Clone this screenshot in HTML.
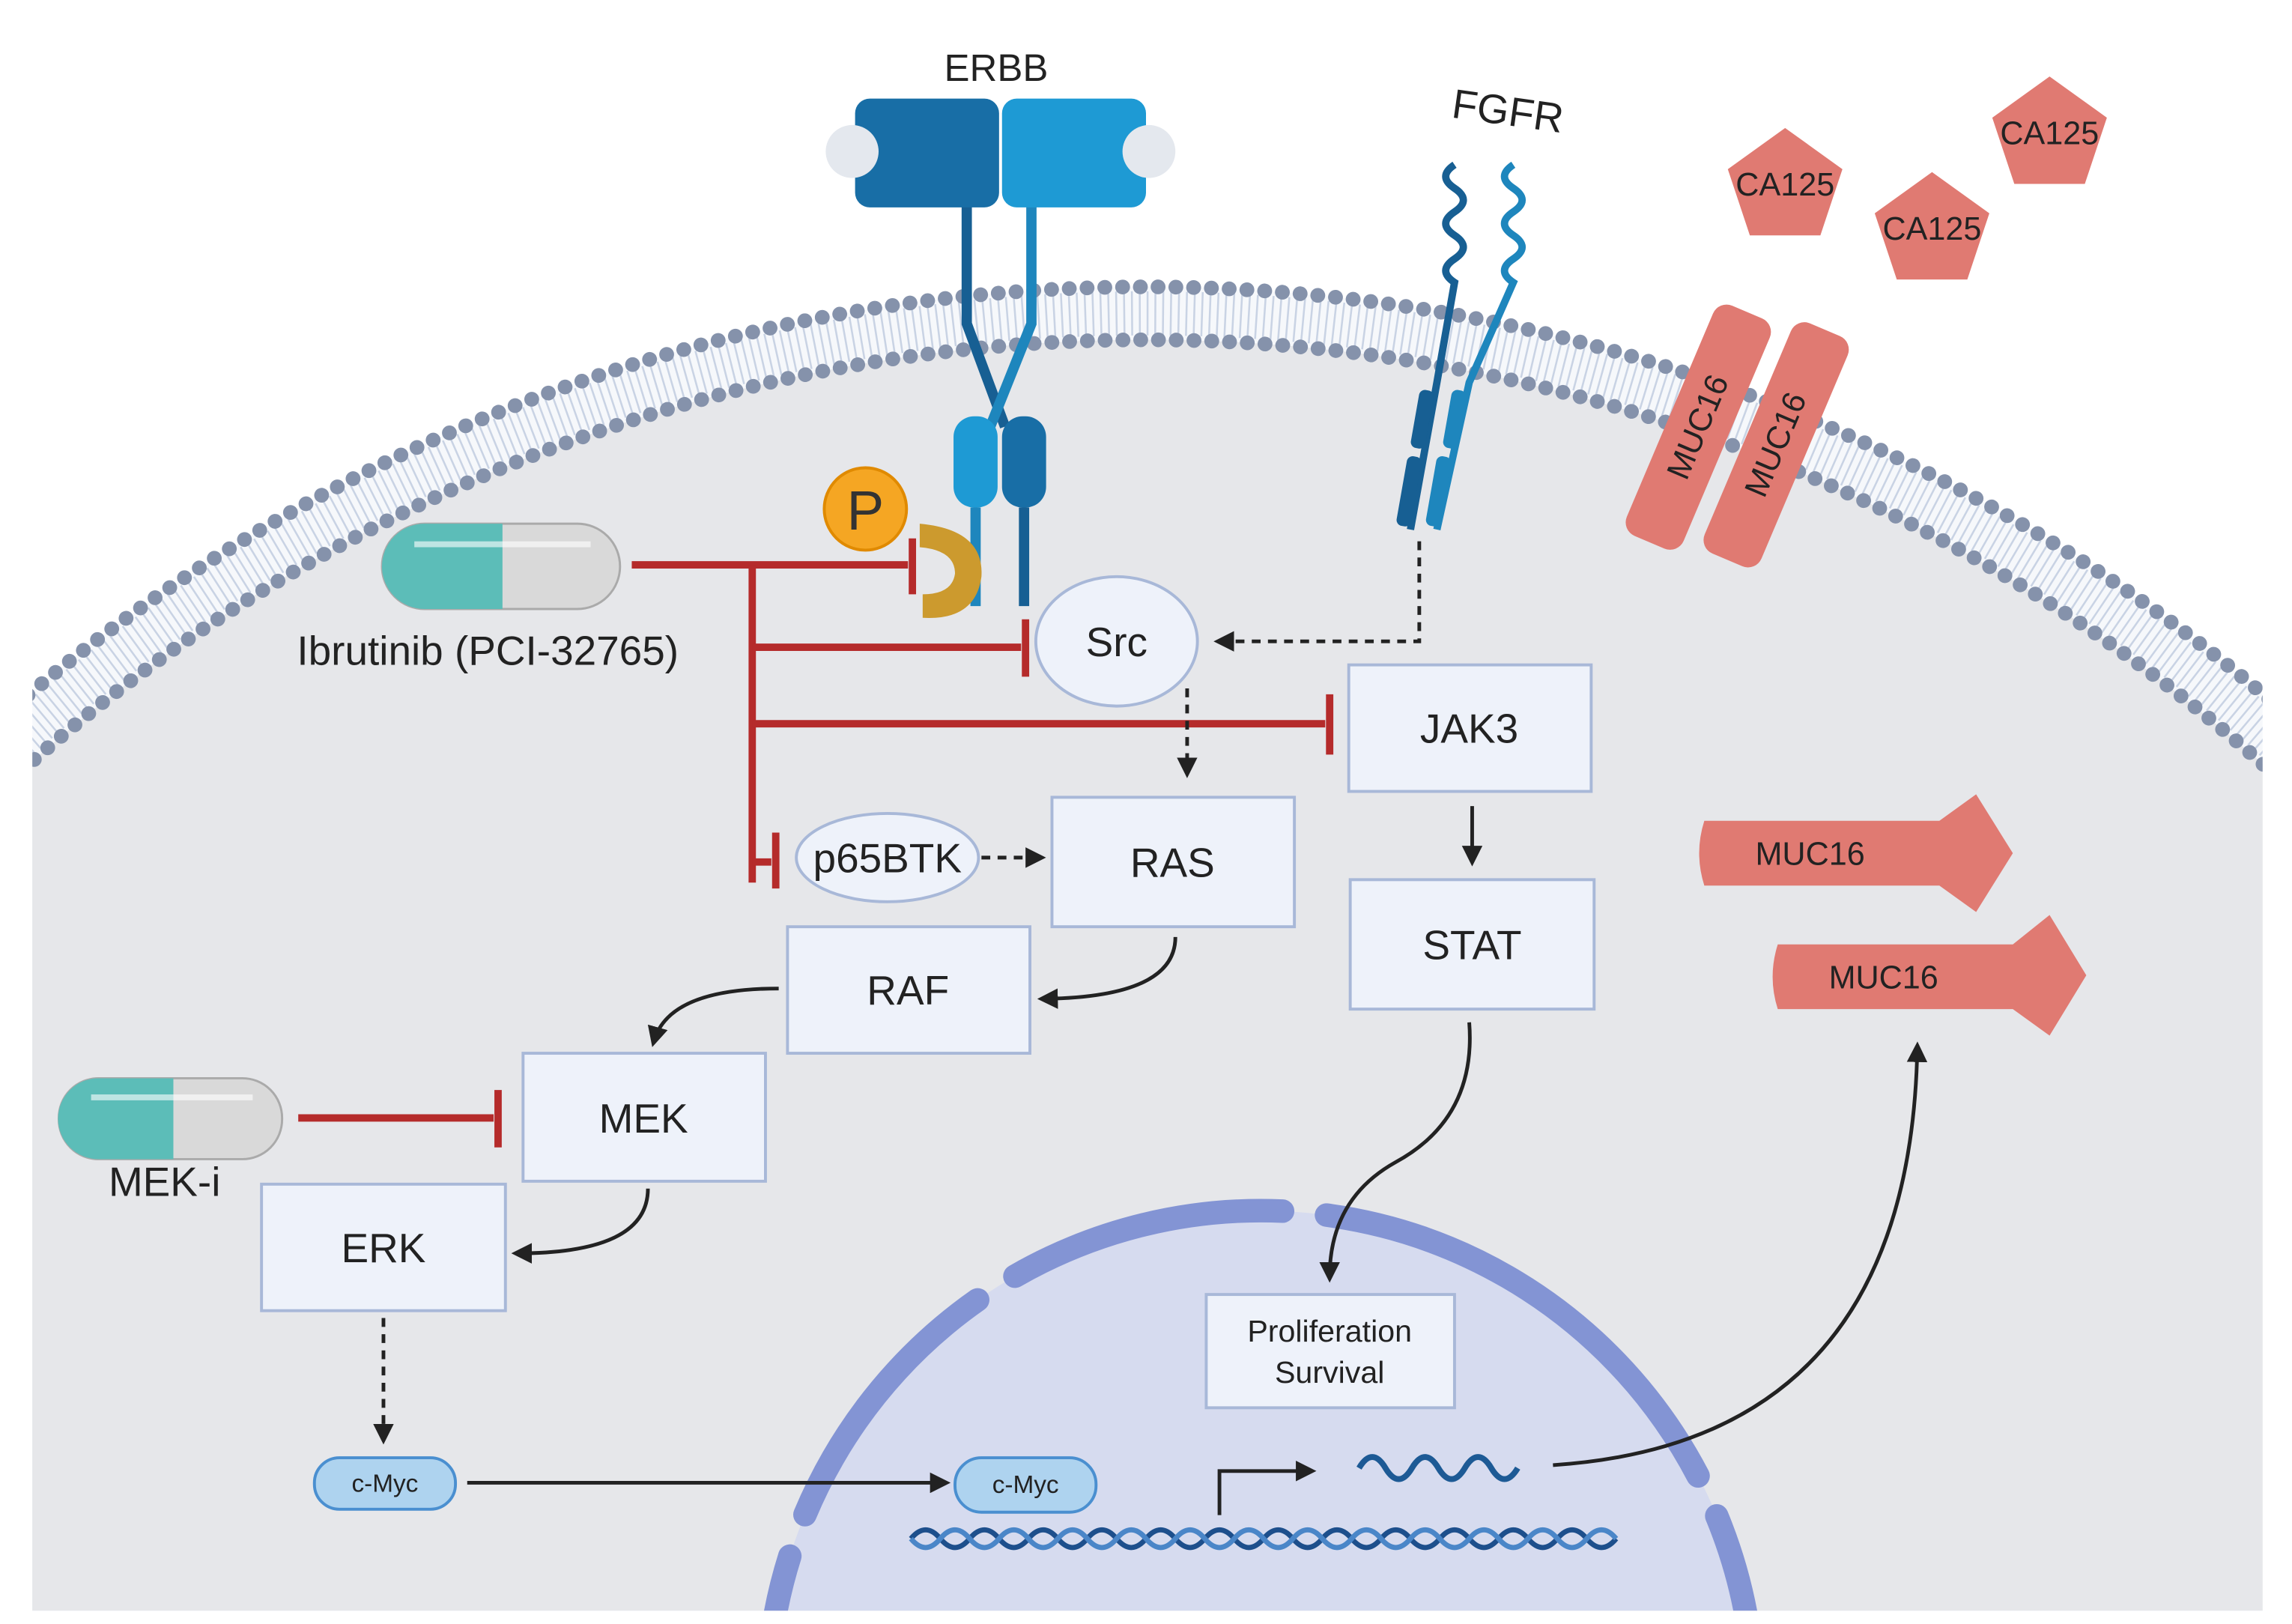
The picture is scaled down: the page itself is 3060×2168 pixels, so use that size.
<!DOCTYPE html>
<html><head><meta charset="utf-8"><style>
html,body{margin:0;padding:0;background:#fff;width:3060px;height:2168px;overflow:hidden;}
svg{display:block;position:absolute;left:0;top:0;}
text{font-family:"Liberation Sans",sans-serif;}
</style></head><body>
<svg width="3060" height="2168" viewBox="0 0 1560 1104" preserveAspectRatio="none" xmlns="http://www.w3.org/2000/svg">
<defs>
<clipPath id="cell"><rect x="22" y="0" width="1518" height="1095"/></clipPath>
<marker id="ah2" markerWidth="14" markerHeight="14" refX="10" refY="7" orient="auto" markerUnits="userSpaceOnUse"><path d="M0,0 L14,7 L0,14 Z" fill="#222"/></marker>
</defs>
<rect width="1560" height="1104" fill="#fff"/>
<g clip-path="url(#cell)">
  <circle cx="780" cy="1377" r="1182" fill="#f6f8fb"/>
  <circle cx="780" cy="1377" r="1164" fill="none" stroke="#c9d3e4" stroke-width="30" stroke-dasharray="1.3 4"/>
  <circle cx="780" cy="1377" r="1146" fill="#e6e7ea"/>
  <circle cx="780" cy="1377" r="1182" fill="none" stroke="#8592ab" stroke-width="10" stroke-dasharray="0.1 12" stroke-linecap="round"/>
  <circle cx="780" cy="1377" r="1146" fill="none" stroke="#8592ab" stroke-width="10" stroke-dasharray="0.1 12" stroke-linecap="round"/>
  <!-- nucleus -->
  <circle cx="858" cy="1159" r="336" fill="#d6dbef"/>
  <circle cx="858" cy="1159" r="336" fill="none" stroke="#8394d4" stroke-width="16" stroke-dasharray="190 30" stroke-linecap="round" transform="rotate(-60 858 1159)"/>
</g>
<rect x="0" y="1095" width="1560" height="9" fill="#fff"/>

<!-- CA125 -->
<g fill="#e07a72">
<polygon points="1215,87 1254,115 1239,160 1191,160 1176,115"/>
<polygon points="1315,117 1354,145 1339,190 1291,190 1276,145"/>
<polygon points="1395,52 1434,80 1419,125 1371,125 1356,80"/>
</g>
<g font-size="22" fill="#222" text-anchor="middle">
<text x="1215" y="133">CA125</text><text x="1315" y="163">CA125</text><text x="1395" y="98">CA125</text>
</g>
<!-- MUC16 membrane -->
<g transform="translate(1155,290) rotate(-67)"><rect x="-85" y="-20" width="170" height="42" rx="10" fill="#e07a72"/><text x="0" y="8" font-size="22" text-anchor="middle" fill="#222">MUC16</text></g>
<g transform="translate(1208,302) rotate(-67)"><rect x="-85" y="-20" width="170" height="42" rx="10" fill="#e07a72"/><text x="0" y="8" font-size="22" text-anchor="middle" fill="#222">MUC16</text></g>
<!-- MUC16 cytoplasm -->
<path d="M1160,558 L1320,558 L1345,540 L1370,580 L1345,620 L1320,602 L1160,602 Q1153,580 1160,558Z" fill="#e07a72"/>
<text x="1232" y="588" font-size="22" text-anchor="middle" fill="#222">MUC16</text>
<path d="M1210,642 L1370,642 L1395,622 L1420,663 L1395,704 L1370,686 L1210,686 Q1203,664 1210,642Z" fill="#e07a72"/>
<text x="1282" y="672" font-size="22" text-anchor="middle" fill="#222">MUC16</text>

<!-- ERBB -->
<text x="678" y="55" font-size="26" text-anchor="middle" fill="#222">ERBB</text>
<path d="M658,140 L658,220 L684,290" stroke="#175f93" stroke-width="7" fill="none"/>
<path d="M702,140 L702,220 L674,290" stroke="#1e86bd" stroke-width="7" fill="none"/>
<rect x="582" y="67" width="98" height="74" rx="10" fill="#186ea6"/>
<rect x="682" y="67" width="98" height="74" rx="10" fill="#1e9ad4"/>
<circle cx="580" cy="103" r="18" fill="#e4e8ee"/>
<circle cx="782" cy="103" r="18" fill="#e4e8ee"/>
<rect x="649" y="283" width="30" height="62" rx="14" fill="#1e9ad4"/>
<rect x="682" y="283" width="30" height="62" rx="14" fill="#186ea6"/>
<line x1="664" y1="345" x2="664" y2="412" stroke="#1e86bd" stroke-width="7"/>
<line x1="697" y1="345" x2="697" y2="412" stroke="#175f93" stroke-width="7"/>
<circle cx="589" cy="346" r="28" fill="#f5a623" stroke="#e08a00" stroke-width="2"/>
<text x="589" y="360" font-size="38" text-anchor="middle" fill="#333">P</text>
<path d="M626,356 Q670,360 668,392 Q664,422 628,420 L628,404 Q648,404 650,390 Q650,374 626,372Z" fill="#cc9a2e"/>

<!-- FGFR -->
<text x="1025" y="85" font-size="28" text-anchor="middle" fill="#222" transform="rotate(8 1025 85)">FGFR</text>
<path d="M990,112 q-12,8 0,16 q12,8 0,16 q-12,8 0,16 q12,8 0,16 q-12,8 0,16 L978,260 L960,360" stroke="#175f93" stroke-width="5" fill="none"/>
<path d="M1030,112 q-12,8 0,16 q12,8 0,16 q-12,8 0,16 q12,8 0,16 q-12,8 0,16 L1000,260 L978,360" stroke="#1e86bd" stroke-width="5" fill="none"/>
<rect x="963" y="265" width="10" height="40" rx="4" fill="#175f93" transform="rotate(10 968 285)"/>
<rect x="985" y="265" width="10" height="40" rx="4" fill="#1e86bd" transform="rotate(10 990 285)"/>
<rect x="954" y="310" width="10" height="48" rx="4" fill="#175f93" transform="rotate(10 959 334)"/>
<rect x="974" y="310" width="10" height="48" rx="4" fill="#1e86bd" transform="rotate(10 979 334)"/>
<path d="M966,368 L966,436 L830,436" stroke="#222" stroke-width="2.5" stroke-dasharray="6 5" fill="none" marker-end="url(#ah2)"/>

<!-- pills -->
<rect x="260" y="356" width="162" height="58" rx="29" fill="#d9d9d9" stroke="#aaa" stroke-width="1.5"/>
<path d="M289,356 L342,356 L342,414 L289,414 A29,29 0 0 1 289,356Z" fill="#5cbdb8"/>
<rect x="282" y="368" width="120" height="4" fill="#fff" opacity="0.6"/>
<text x="332" y="452" font-size="28" text-anchor="middle" fill="#222">Ibrutinib (PCI-32765)</text>
<rect x="40" y="733" width="152" height="55" rx="27" fill="#d9d9d9" stroke="#aaa" stroke-width="1.5"/>
<path d="M67,733 L118,733 L118,788 L67,788 A27,27 0 0 1 67,733Z" fill="#5cbdb8"/>
<rect x="62" y="744" width="110" height="4" fill="#fff" opacity="0.6"/>
<text x="112" y="813" font-size="28" text-anchor="middle" fill="#222">MEK-i</text>

<!-- red inhibition -->
<g stroke="#b52b2b" stroke-width="5" fill="none">
<path d="M430,384 L618,384"/><path d="M621,366 L621,404"/>
<path d="M512,384 L512,600"/>
<path d="M512,440 L695,440"/><path d="M698,421 L698,460"/>
<path d="M512,492 L902,492"/><path d="M905,472 L905,513"/>
<path d="M512,586 L525,586"/><path d="M528,566 L528,604"/>
<path d="M203,760 L336,760"/><path d="M339,741 L339,780"/>
</g>

<!-- boxes -->
<g fill="#eef2fa" stroke="#a8b8d8" stroke-width="2">
<rect x="918" y="452" width="165" height="86"/>
<rect x="716" y="542" width="165" height="88"/>
<rect x="919" y="598" width="166" height="88"/>
<rect x="536" y="630" width="165" height="86"/>
<rect x="356" y="716" width="165" height="87"/>
<rect x="178" y="805" width="166" height="86"/>
<rect x="821" y="880" width="169" height="77"/>
<ellipse cx="760" cy="436" rx="55" ry="44"/>
<ellipse cx="604" cy="583" rx="62" ry="30"/>
</g>
<g font-size="28" fill="#222" text-anchor="middle">
<text x="1000" y="505">JAK3</text><text x="798" y="596">RAS</text><text x="1002" y="652">STAT</text>
<text x="618" y="683">RAF</text><text x="438" y="770">MEK</text><text x="261" y="858">ERK</text>
<text x="760" y="446">Src</text><text x="604" y="593">p65BTK</text>
</g>
<text x="905" y="912" font-size="21" text-anchor="middle" fill="#222">Proliferation</text>
<text x="905" y="940" font-size="21" text-anchor="middle" fill="#222">Survival</text>

<!-- c-Myc -->
<rect x="214" y="991" width="96" height="35" rx="17" fill="#aed3ef" stroke="#4a8fd0" stroke-width="2"/>
<text x="262" y="1014" font-size="17" text-anchor="middle" fill="#222">c-Myc</text>
<rect x="650" y="991" width="96" height="37" rx="18" fill="#aed3ef" stroke="#4a8fd0" stroke-width="2"/>
<text x="698" y="1015" font-size="17" text-anchor="middle" fill="#222">c-Myc</text>

<!-- arrows -->
<g stroke="#222" stroke-width="2.5" fill="none">
<path d="M808,468 L808,525" stroke-dasharray="6 5" marker-end="url(#ah2)"/>
<path d="M668,583 L708,583" stroke-dasharray="6 5" marker-end="url(#ah2)"/>
<path d="M1002,548 L1002,585" marker-end="url(#ah2)"/>
<path d="M800,637 Q800,678 710,679" marker-end="url(#ah2)"/>
<path d="M530,672 Q455,672 445,708" marker-end="url(#ah2)"/>
<path d="M441,808 Q441,852 352,852" marker-end="url(#ah2)"/>
<path d="M261,896 L261,978" stroke-dasharray="6 5" marker-end="url(#ah2)"/>
<path d="M318,1008 L643,1008" marker-end="url(#ah2)"/>
<path d="M1000,695 Q1005,760 950,790 Q905,815 905,868" marker-end="url(#ah2)"/>
<path d="M1057,996 Q1300,980 1305,712" marker-end="url(#ah2)"/>
<path d="M830,1030 L830,1000 L892,1000" marker-end="url(#ah2)"/>
</g>
<!-- mRNA -->
<path d="M925,998 q9,-15 18,0 q9,15 18,0 q9,-15 18,0 q9,15 18,0 q9,-15 18,0 q9,15 18,0" stroke="#1d5a95" stroke-width="4" fill="none"/>
<!-- DNA -->
<path d="M620,1046 q10,-12 20,0 q10,12 20,0 q10,-12 20,0 q10,12 20,0 q10,-12 20,0 q10,12 20,0 q10,-12 20,0 q10,12 20,0 q10,-12 20,0 q10,12 20,0 q10,-12 20,0 q10,12 20,0 q10,-12 20,0 q10,12 20,0 q10,-12 20,0 q10,12 20,0 q10,-12 20,0 q10,12 20,0 q10,-12 20,0 q10,12 20,0 q10,-12 20,0 q10,12 20,0 q10,-12 20,0 q10,12 20,0" stroke="#1d4f8c" stroke-width="3.5" fill="none"/>
<path d="M620,1046 q10,12 20,0 q10,-12 20,0 q10,12 20,0 q10,-12 20,0 q10,12 20,0 q10,-12 20,0 q10,12 20,0 q10,-12 20,0 q10,12 20,0 q10,-12 20,0 q10,12 20,0 q10,-12 20,0 q10,12 20,0 q10,-12 20,0 q10,12 20,0 q10,-12 20,0 q10,12 20,0 q10,-12 20,0 q10,12 20,0 q10,-12 20,0 q10,12 20,0 q10,-12 20,0 q10,12 20,0 q10,-12 20,0" stroke="#4a86c8" stroke-width="3.5" fill="none"/>
</svg>
</body></html>
